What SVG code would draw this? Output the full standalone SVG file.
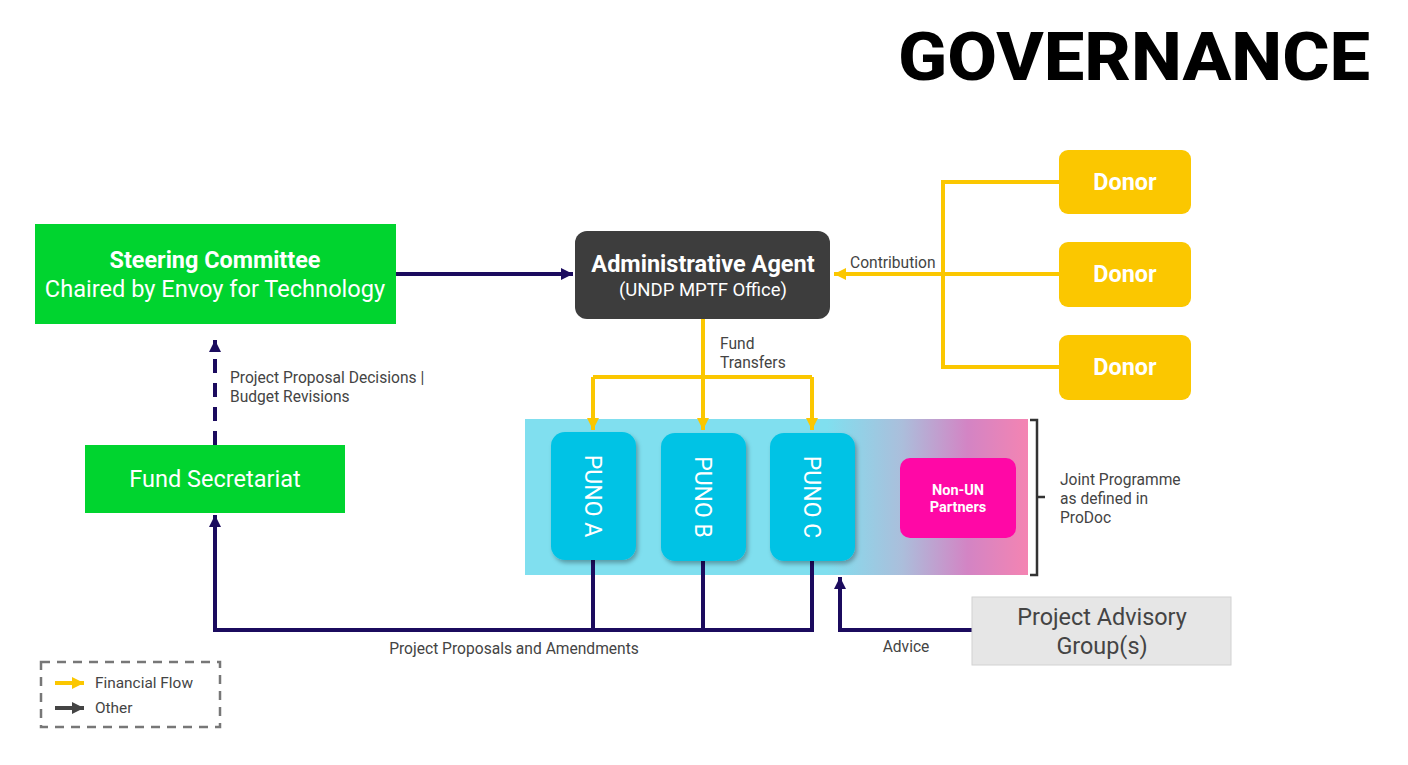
<svg xmlns="http://www.w3.org/2000/svg" width="1408" height="765" viewBox="0 0 1408 765">
<style>
text{font-family:Roboto,"Liberation Sans",sans-serif}
.w{fill:#fff}
.lbl{fill:#444;font-size:15.6px}
.nav{stroke:#1b0b5e;stroke-width:4;fill:none}
.yel{stroke:#fbc700;stroke-width:4;fill:none}
.donor rect{fill:#fbc700}
.donor text{fill:#fff;font-size:23.4px;font-weight:700;text-anchor:middle}
.puno rect{fill:#00c3e5;filter:url(#sh)}
.puno text{fill:#fff;font-size:23px;text-anchor:middle}
</style>
<defs>
<marker id="an" markerUnits="userSpaceOnUse" markerWidth="14" markerHeight="14" refX="12" refY="7" orient="auto"><path d="M0,1 L12,7 L0,13 Z" fill="#1b0b5e"/></marker>
<marker id="ay" markerUnits="userSpaceOnUse" markerWidth="14" markerHeight="14" refX="12" refY="7" orient="auto"><path d="M0,1 L12,7 L0,13 Z" fill="#fbc700"/></marker>
<marker id="ag" markerUnits="userSpaceOnUse" markerWidth="14" markerHeight="14" refX="12" refY="7" orient="auto"><path d="M0,1 L12,7 L0,13 Z" fill="#444"/></marker>
<linearGradient id="jg" x1="0" y1="0" x2="1" y2="0">
<stop offset="0" stop-color="#80dfef"/>
<stop offset="0.6" stop-color="#80dfef"/>
<stop offset="0.75" stop-color="#abbedb"/>
<stop offset="0.88" stop-color="#d384c4"/>
<stop offset="1" stop-color="#f484b2"/>
</linearGradient>
<filter id="sh" x="-20%" y="-20%" width="150%" height="150%"><feDropShadow dx="2" dy="3" stdDeviation="2" flood-color="#000" flood-opacity="0.3"/></filter>
</defs>
<rect width="1408" height="765" fill="#fff"/>
<text x="1370" y="80" text-anchor="end" font-family="Inter,'Liberation Sans',sans-serif" font-weight="800" font-size="66" textLength="472" lengthAdjust="spacingAndGlyphs" fill="#000">GOVERNANCE</text>

<g id="joint-programme">
<rect x="525" y="419" width="503" height="156" fill="url(#jg)"/>
<path d="M1030,420 H1037 V575 H1030 M1037,497 H1045" stroke="#333" stroke-width="2.5" fill="none"/>
<text class="lbl" x="1060" y="485">Joint Programme</text>
<text class="lbl" x="1060" y="504">as defined in</text>
<text class="lbl" x="1060" y="523">ProDoc</text>
</g>

<g id="connectors">
<path class="nav" d="M215,445 V340" stroke-dasharray="14,10" marker-end="url(#an)"/>
<path class="nav" d="M396,274 H573" marker-end="url(#an)"/>
<path class="yel" d="M1059,274 H834" marker-end="url(#ay)"/>
<path class="yel" d="M1059,182 H943 V367 H1059"/>
<path class="yel" d="M703,318 V430" marker-end="url(#ay)"/>
<path class="yel" d="M593,377 H812"/>
<path class="yel" d="M593,377 V430" marker-end="url(#ay)"/>
<path class="yel" d="M812,377 V430" marker-end="url(#ay)"/>
<path class="nav" d="M593,560 V630 M703,560 V630 M812,560 V630 H215 V515" marker-end="url(#an)"/>
<path class="nav" d="M972,630 H840 V577" marker-end="url(#an)"/>
<text class="lbl" x="230" y="383">Project Proposal Decisions |</text>
<text class="lbl" x="230" y="402">Budget Revisions</text>
<text class="lbl" x="850" y="268">Contribution</text>
<text class="lbl" x="720" y="349">Fund</text>
<text class="lbl" x="720" y="368">Transfers</text>
<text class="lbl" x="514" y="654" text-anchor="middle">Project Proposals and Amendments</text>
<text class="lbl" x="906" y="652" text-anchor="middle">Advice</text>
</g>

<g id="steering-committee">
<rect x="35" y="224" width="361" height="100" fill="#00d42f"/>
<text class="w" x="215" y="268" text-anchor="middle" font-size="23.4" font-weight="700">Steering Committee</text>
<text class="w" x="215" y="297" text-anchor="middle" font-size="23.6">Chaired by Envoy for Technology</text>
</g>

<g id="fund-secretariat">
<rect x="85" y="445" width="260" height="68" fill="#00d42f"/>
<text class="w" x="215" y="487" text-anchor="middle" font-size="23.5">Fund Secretariat</text>
</g>

<g id="administrative-agent">
<rect x="575" y="231" width="255" height="88" rx="12" fill="#3d3d3d"/>
<text class="w" x="703" y="272" text-anchor="middle" font-size="23.5" font-weight="700">Administrative Agent</text>
<text class="w" x="703" y="296" text-anchor="middle" font-size="18.5">(UNDP MPTF Office)</text>
</g>

<g id="donor-1" class="donor"><rect x="1059" y="150" width="132" height="64" rx="9"/><text x="1125" y="190">Donor</text></g>
<g id="donor-2" class="donor"><rect x="1059" y="242" width="132" height="65" rx="9"/><text x="1125" y="282">Donor</text></g>
<g id="donor-3" class="donor"><rect x="1059" y="335" width="132" height="65" rx="9"/><text x="1125" y="375">Donor</text></g>

<g id="puno-a" class="puno"><rect x="551" y="432" width="85" height="128" rx="14"/><text transform="translate(585,496) rotate(90)">PUNO A</text></g>
<g id="puno-b" class="puno"><rect x="661" y="433" width="85" height="128" rx="14"/><text transform="translate(695,497) rotate(90)">PUNO B</text></g>
<g id="puno-c" class="puno"><rect x="770" y="433" width="85" height="128" rx="14"/><text transform="translate(804,497) rotate(90)">PUNO C</text></g>

<g id="non-un-partners">
<rect x="900" y="458" width="116" height="80" rx="10" fill="#ff08a6"/>
<text class="w" x="958" y="495" text-anchor="middle" font-size="14.5" font-weight="700">Non-UN</text>
<text class="w" x="958" y="512" text-anchor="middle" font-size="14.5" font-weight="700">Partners</text>
</g>

<g id="project-advisory-group">
<rect x="972" y="597" width="259" height="68" fill="#e6e6e6" stroke="#d2d2d2" stroke-width="1"/>
<text x="1102" y="625" text-anchor="middle" font-size="23.4" fill="#444">Project Advisory</text>
<text x="1102" y="654" text-anchor="middle" font-size="23.4" fill="#444">Group(s)</text>
</g>

<g id="legend">
<rect x="41" y="662" width="179" height="65" fill="none" stroke="#777" stroke-width="2.5" stroke-dasharray="9,7"/>
<path d="M55,683 H84" stroke="#fbc700" stroke-width="4" marker-end="url(#ay)"/>
<path d="M55,708 H84" stroke="#444" stroke-width="4" marker-end="url(#ag)"/>
<text x="95" y="688" font-size="15.4" fill="#444">Financial Flow</text>
<text x="95" y="713" font-size="15.4" fill="#444">Other</text>
</g>
</svg>
